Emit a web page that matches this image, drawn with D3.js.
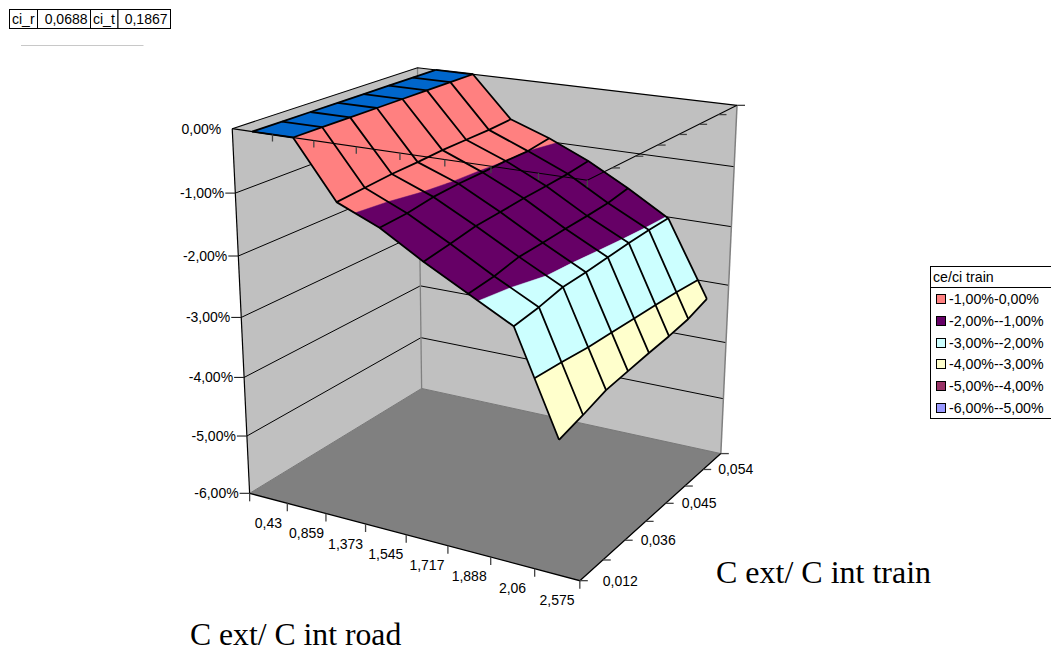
<!DOCTYPE html>
<html><head><meta charset="utf-8">
<style>html,body{margin:0;padding:0;background:#fff}svg{display:block}text{font-family:"Liberation Sans",Arial,sans-serif;fill:#000}</style>
<script src="https://cdn.jsdelivr.net/npm/d3@7/dist/d3.min.js"></script></head><body>
<svg id="c" width="1051" height="652"></svg>
<script>
// ---- data ----
const roadLabels=["0,43","0,859","1,373","1,545","1,717","1,888","2,06","2,575"];
const trainKeys=["0,012","a","0,036","b","0,045","c","0,054","d"];
const trainLabels=["0,012","","0,036","","0,045","","0,054",""];
const zTicks=[0,-1,-2,-3,-4,-5,-6];
const row0=[0,0,0,0,0,0,0,0];
const row1=[0,0,0,0,0,0,0,0];
const row2=[-0.88,-0.84,-0.80,-0.78,-0.75,-0.74,-0.73,-0.70];
const row3=[-1.16,-1.13,-1.06,-1.03,-1.02,-1.00,-1.00,-0.94];
const row4=[-1.56,-1.49,-1.41,-1.38,-1.34,-1.32,-1.29,-1.24];
const row5=[-1.92,-1.87,-1.78,-1.76,-1.73,-1.71,-1.68,-1.61];
const row6=[-2.28,-2.22,-2.13,-2.11,-2.08,-2.05,-2.03,-2.02];
const row7=[-3.86,-3.75,-3.62,-3.57,-3.52,-3.48,-3.42,-3.30];
const surface=[row0,row1,row2,row3,row4,row5,row6,row7];
const bandLows=[-1,-2,-3,-4,-5,-6];
const bandNames=["-1,00%-0,00%","-2,00%--1,00%","-3,00%--2,00%","-4,00%--3,00%","-5,00%--4,00%","-6,00%--5,00%"];
const bandColors=["#FF8080","#660066","#CCFFFF","#FFFFCC","#993366","#9999FF"];
const tableCells=["ci_r","0,0688","ci_t","0,1867"];

// ---- layout ----
const svg=d3.select("#c");
// camera calibration: cube corners (x,y,z in 0..1) -> screen position
const camera=[[0,0,0,250,493],[1,0,0,580,581],[1,1,0,721,453],[0,1,0,421,389],[0,0,1,232,128],[1,0,1,587,181],[0,1,1,418,68],[1,1,1,737,105]];
function gauss(A,b){const n=b.length,M=A.map((r,i)=>[...r,b[i]]);for(let c=0;c<n;c++){let p=c;for(let r=c+1;r<n;r++)if(Math.abs(M[r][c])>Math.abs(M[p][c]))p=r;[M[c],M[p]]=[M[p],M[c]];for(let r=0;r<n;r++)if(r!==c){const f=M[r][c]/M[c][c];for(let k=c;k<=n;k++)M[r][k]-=f*M[c][k];}}return M.map((r,i)=>r[n]/r[i]);}
const P=(()=>{const R=[],B=[];for(const [x,y,z,u,v] of camera){R.push([x,y,z,1,0,0,0,0,-u*x,-u*y,-u*z]);B.push(u);R.push([0,0,0,0,x,y,z,1,-v*x,-v*y,-v*z]);B.push(v);}
 const N=d3.range(11).map(i=>d3.range(11).map(j=>d3.sum(R,r=>r[i]*r[j])));
 const C=d3.range(11).map(i=>d3.sum(R,(r,k)=>r[i]*B[k]));return gauss(N,C);})();
const proj=(x,y,z)=>{const w=P[8]*x+P[9]*y+P[10]*z+1;return [(P[0]*x+P[1]*y+P[2]*z+P[3])/w,(P[4]*x+P[5]*y+P[6]*z+P[7])/w];};

const xScale=d3.scaleBand().domain(roadLabels).range([0,1]);
const yScale=d3.scalePoint().domain(trainKeys).range([0,1]);
const zScale=d3.scaleLinear().domain([-6,0]).range([0,1]);
const vx=i=>xScale(roadLabels[i])+xScale.bandwidth()/2;
const vy=j=>yScale(trainKeys[j]);
const line=d3.line();
const pt3=(x,y,v)=>proj(x,y,zScale(v));

// walls and floor
const poly=(pts,fill)=>svg.append("path").attr("d",line(pts)+"Z").attr("fill",fill);
const seg=(pts,stroke,w)=>svg.append("path").attr("d",line(pts)).attr("fill","none").attr("stroke",stroke).attr("stroke-width",w);
poly([pt3(0,0,0),pt3(0,1,0),pt3(0,1,-6),pt3(0,0,-6)],"#C0C0C0");
poly([pt3(0,1,0),pt3(1,1,0),pt3(1,1,-6),pt3(0,1,-6)],"#C0C0C0");
poly([pt3(0,0,-6),pt3(1,0,-6),pt3(1,1,-6),pt3(0,1,-6)],"#808080");
// gridlines on the walls
zTicks.filter(v=>v<0&&v>-6).forEach(v=>seg([pt3(0,0,v),pt3(0,1,v),pt3(1,1,v)],"#000",1));
// wall edges
seg([pt3(0,1,0),pt3(0,1,-6)],"#808080",1.3);
seg([pt3(1,1,0),pt3(1,1,-6)],"#808080",1.5);
seg([pt3(0,0,-6),pt3(0,1,-6)],"#777",1);
seg([pt3(0,1,-6),pt3(1,1,-6)],"#777",1);
seg([pt3(0,0,0),pt3(0,0,-6)],"#000",1.2);
seg([pt3(0,0,0),pt3(0,1,0),pt3(1,1,0)],"#000",1.1);
seg([pt3(0,0,-6),pt3(1,0,-6),pt3(1,1,-6)],"#000",1.3);

// surface cells split by value band
function clip(poly,test,cross){const out=[];poly.forEach((a,k)=>{const b=poly[(k+1)%poly.length],ia=test(a[2]),ib=test(b[2]);if(ia)out.push(a);if(ia!==ib){const t=(cross-a[2])/(b[2]-a[2]);out.push([a[0]+t*(b[0]-a[0]),a[1]+t*(b[1]-a[1]),cross]);}});return out;}
const g=svg.append("g");
d3.range(surface.length-1).forEach(i=>d3.range(trainKeys.length-1).forEach(j=>{
  const q=[[vx(i),vy(j),surface[i][j]],[vx(i+1),vy(j),surface[i+1][j]],[vx(i+1),vy(j+1),surface[i+1][j+1]],[vx(i),vy(j+1),surface[i][j+1]]];
  const draw=(pts,col)=>g.append("path").attr("d",line(pts.map(p=>pt3(p[0],p[1],p[2])))+"Z").attr("fill",col).attr("stroke",col).attr("stroke-width",.5);
  if(d3.min(q,d=>d[2])>=0){draw(q,"#0066CC");return;}
  bandLows.forEach((lo,b)=>{let c=clip(q,z=>z<=lo+1,lo+1);if(c.length>2)c=clip(c,z=>z>=lo,lo);if(c.length>2)draw(c,bandColors[b]);});
}));
// mesh
const mesh=svg.append("g").attr("fill","none").attr("stroke","#000").attr("stroke-width",1.8).attr("stroke-linejoin","round");
surface.forEach((r,i)=>mesh.append("path").attr("d",line(r.map((v,j)=>pt3(vx(i),vy(j),v)))));
trainKeys.forEach((k,j)=>mesh.append("path").attr("d",line(surface.map((r,i)=>pt3(vx(i),vy(j),r[j])))));
// -3 % contour line
const contour=-3;
d3.range(surface.length-1).forEach(i=>{
  const a=surface[i],b=surface[i+1];
  const cross=j=>{const t=(contour-a[j])/(b[j]-a[j]);return pt3(vx(i)+t*(vx(i+1)-vx(i)),vy(j),contour);};
  if(a[0]>contour&&b[0]<contour)mesh.append("path").attr("d",line(trainKeys.map((k,j)=>cross(j))));
});

// top edges of the cube, drawn over the surface, with their ticks
seg([pt3(0,0,0),pt3(1,0,0),pt3(1,1,0)],"#000",1.1);
d3.range(roadLabels.length+1).forEach(i=>{
  const x=i/roadLabels.length;
  if(i>0){const t=pt3(x,0,0);seg([t,[t[0],t[1]+7]],"#444",1.3);}
  const f=pt3(x,0,-6);seg([f,[f[0],f[1]+8]],"#444",1.3);
});
trainKeys.forEach((k,j)=>{
  const t=pt3(1,vy(j),0);if(j>0)seg([t,[t[0]+8,t[1]]],"#444",1.3);
  const f=pt3(1,vy(j),-6);seg([f,[f[0]+8,f[1]]],"#444",1.3);
});
// axis labels
const pct=v=>v.toFixed(2).replace(".",",")+"%";
zTicks.forEach(v=>{const p=pt3(0,0,v);if(v<0)seg([[p[0]-10,p[1]],p],"#222",1.1);
  svg.append("text").attr("x",p[0]-11).attr("y",p[1]+5).attr("text-anchor","end").attr("font-size",14).text(pct(v));});
roadLabels.forEach((l,i)=>{const p=pt3(vx(i),0,-6);
  svg.append("text").attr("x",p[0]).attr("y",p[1]+30).attr("text-anchor","middle").attr("font-size",14).text(l);});
const labelDx=[23,0,16,0,16,0,15,0];
trainLabels.forEach((l,j)=>{if(!l)return;const p=pt3(1,vy(j),-6);
  svg.append("text").attr("x",p[0]+labelDx[j]).attr("y",p[1]+5).attr("font-size",14).text(l);});
// axis titles
svg.append("text").attr("x",716).attr("y",583).attr("font-size",32).style("font-family","'Liberation Serif',serif").text("C ext/ C int train");
svg.append("text").attr("x",190).attr("y",645).attr("font-size",31.7).style("font-family","'Liberation Serif',serif").text("C ext/ C int road");

// table top-left
const tableX=[9.5,37.5,90.5,118,170.5];
tableCells.forEach((t,k)=>{
  svg.append("rect").attr("x",tableX[k]).attr("y",9.5).attr("width",tableX[k+1]-tableX[k]).attr("height",19).attr("fill","#fff").attr("stroke","#000");
  svg.append("text").attr("x",k%2?tableX[k+1]-3:tableX[k]+2.5).attr("y",23.5).attr("text-anchor",k%2?"end":"start").attr("font-size",14).text(t);
});
svg.append("line").attr("x1",21).attr("x2",143.5).attr("y1",45.5).attr("y2",45.5).attr("stroke","#c8c8c8");

// legend
const lg=svg.append("g");
lg.append("rect").attr("x",930.5).attr("y",266.5).attr("width",130).attr("height",152).attr("fill","#fff").attr("stroke","#000");
lg.append("line").attr("x1",930.5).attr("x2",1060).attr("y1",287.5).attr("y2",287.5).attr("stroke","#000");
lg.append("text").attr("x",933).attr("y",282).attr("font-size",14.2).text("ce/ci train");
const rowY=d3.scaleLinear().domain([0,5]).range([299,408]);
bandNames.forEach((n,b)=>{
  lg.append("rect").attr("x",936.5).attr("y",Math.round(rowY(b))-4.5).attr("width",9).attr("height",9).attr("fill",bandColors[b]).attr("stroke","#000");
  lg.append("text").attr("x",949).attr("y",rowY(b)+5).attr("font-size",14.2).text(n);
});
</script></body></html>
